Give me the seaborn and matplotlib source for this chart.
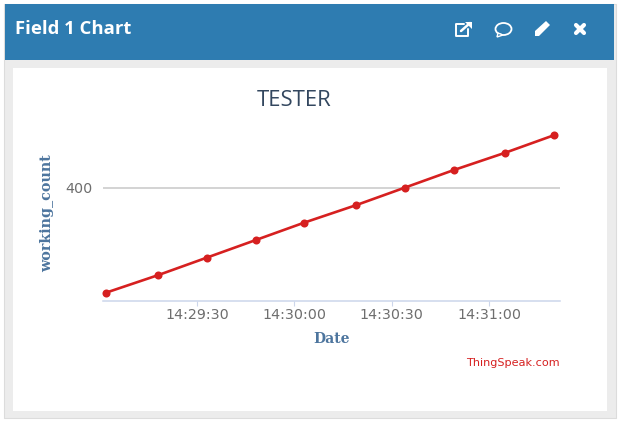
import pandas as pd
import numpy as np
import matplotlib
matplotlib.use('Agg')
import matplotlib.pyplot as plt
import matplotlib.dates as mdates
from matplotlib.patches import Rectangle, Ellipse, Polygon
import seaborn as sns

# data
times = ['14:29:02', '14:29:18', '14:29:33', '14:29:48', '14:30:03',
         '14:30:19', '14:30:34', '14:30:49', '14:31:05', '14:31:20']
counts = [370, 375, 380, 385, 390, 395, 400, 405, 410, 415]
y_ticks = [400]
x_ticks = ['14:29:30', '14:30:00', '14:30:30', '14:31:00']

df = pd.DataFrame({'Date': pd.to_datetime(times, format='%H:%M:%S'), 'working_count': counts})

sns.set_theme(style='white')
plt.rcParams['font.family'] = ['DejaVu Sans']

W, H = 622, 425
fig = plt.figure(figsize=(W / 100, H / 100), dpi=100, facecolor='white')

# page furniture, in pixel coordinates
bg = fig.add_axes([0, 0, 1, 1])
bg.set_xlim(0, W)
bg.set_ylim(H, 0)
bg.axis('off')
bg.add_patch(Rectangle((3.5, 3.5), 612.5, 414.5, fc='#ececec', ec='#dcdcdc', lw=0.8))
bg.add_patch(Rectangle((5, 4), 609, 56, fc='#2e7cb1', ec='none'))
bg.add_patch(Rectangle((13, 68), 594, 343, fc='white', ec='none'))
bg.text(15, 29, 'Field 1 Chart', color='white', fontsize=13.3, fontweight='bold',
        family='Open Sans', va='center', ha='left')
bg.text(294, 100, 'TESTER', color='#33475f', fontsize=15.8, va='center', ha='center',
        family='Open Sans')
bg.text(559.5, 363, 'ThingSpeak.com', color='#d62020', fontsize=8.1, va='center', ha='right')

# header icons
ic = dict(color='white', lw=1.4, solid_capstyle='round')
bg.plot([464, 456, 456, 468, 468], [24, 24, 36, 36, 29], **ic)
bg.plot([461, 470], [31, 23], color='white', lw=1.8)
bg.add_patch(Polygon([[465, 22], [472, 22], [472, 29]], fc='white', ec='none'))
bg.add_patch(Ellipse((503.5, 29), 16, 12, fc='none', ec='white', lw=1.3))
bg.add_patch(Polygon([[498, 33], [497, 37], [503, 35]], fc='#2e7cb1', ec='white', lw=1))
bg.add_patch(Polygon([[535, 31], [546, 21], [550, 25], [539, 36], [535, 36]], fc='white', ec='none'))
bg.plot([576, 584], [25, 33], color='white', lw=3, solid_capstyle='round')
bg.plot([576, 584], [33, 25], color='white', lw=3, solid_capstyle='round')

# chart
ax = fig.add_axes([103 / W, (H - 301) / H, 457 / W, 176 / H])
ax.patch.set_alpha(0)
sns.lineplot(data=df, x='Date', y='working_count', ax=ax, color='#d62020', linewidth=1.9,
             marker='o', markersize=5.8, markeredgewidth=0, zorder=5, clip_on=False)

ax.set_xlim(pd.Timestamp('1900-01-01 14:29:01'), pd.Timestamp('1900-01-01 14:31:21.8'))
ax.set_ylim(367.6, 417.9)
ax.xaxis.set_major_formatter(mdates.DateFormatter('%H:%M:%S'))
ax.set_xticks(pd.to_datetime(x_ticks, format='%H:%M:%S'))
ax.set_yticks(y_ticks)
ax.grid(axis='y', color='#d3d3d3', lw=1.4)
ax.set_axisbelow(True)

for side in ['top', 'left', 'right']:
    ax.spines[side].set_visible(False)
ax.spines['bottom'].set_color('#ccd6eb')
ax.spines['bottom'].set_linewidth(1.1)
ax.tick_params(axis='x', length=3.8, width=0.8, color='#ccd6eb', labelsize=10.3,
               labelcolor='#6e6e6e', pad=1.5, bottom=True)
ax.tick_params(axis='y', length=0, labelsize=10.3, labelcolor='#6e6e6e', pad=7.5)

ax.set_xlabel('Date', color='#4d759e', fontsize=10, fontweight='bold', labelpad=7, family='DejaVu Serif')
ax.set_ylabel('working_count', color='#4d759e', fontsize=10.3, fontweight='bold', family='DejaVu Serif')
ax.yaxis.set_label_coords(-0.108, 0.5)

fig.savefig('out.png', dpi=100)
